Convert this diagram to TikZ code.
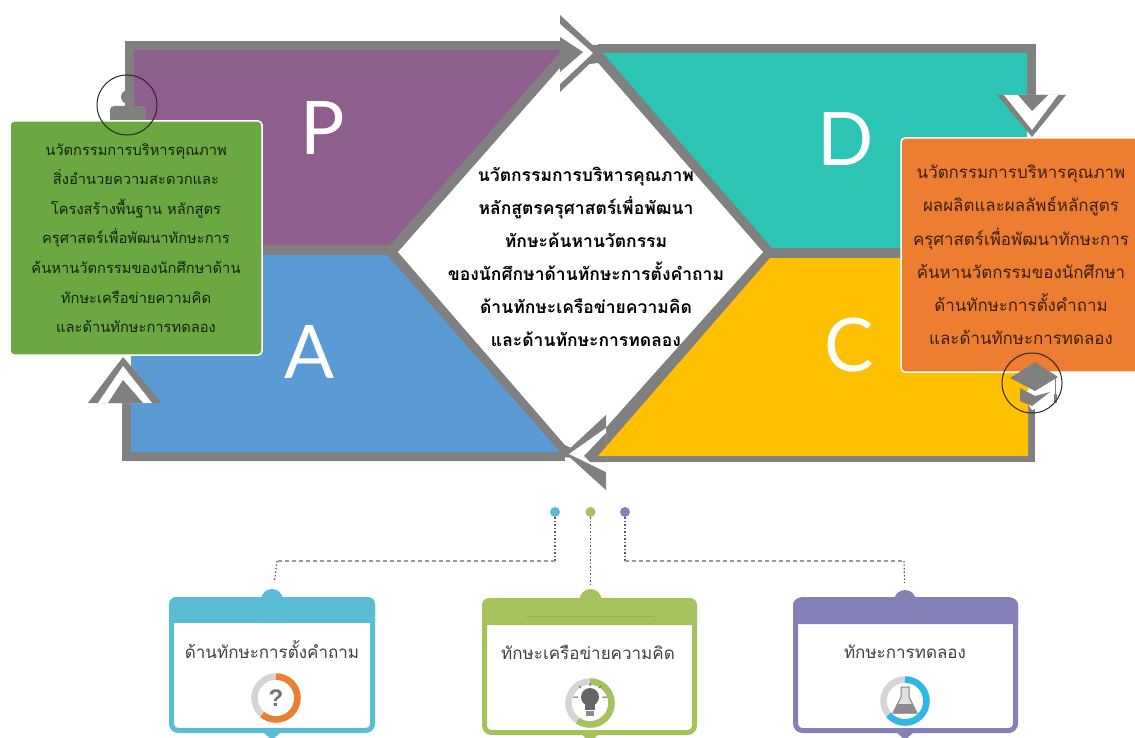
\documentclass[tikz,border=0pt]{standalone}
\usepackage{fontspec}
\setmainfont[Script=Thai]{Loma}
\newfontfamily\letterfont{Lato}
\newfontfamily\markfont{Liberation Sans}
\definecolor{framegray}{HTML}{808080}
\definecolor{planpurple}{HTML}{8E5E8C}
\definecolor{doteal}{HTML}{2CC5B5}
\definecolor{actblue}{HTML}{5B9BD5}
\definecolor{checkyellow}{HTML}{FFC000}
\definecolor{inputgreen}{HTML}{6BA842}
\definecolor{outputorange}{HTML}{ED7D31}
\definecolor{cardblue}{HTML}{5BBCD6}
\definecolor{cardgreen}{HTML}{A5C25C}
\definecolor{cardpurple}{HTML}{8580B8}
\definecolor{ringgray}{HTML}{D5D5D5}
\definecolor{flaskblue}{HTML}{2FB8E6}
\begin{document}
\begin{tikzpicture}[x=1pt,y=-1pt,
  frame/.style={draw=framegray,line width=9pt},
  infobox/.style={draw=white,line width=1.5pt,rounded corners=4pt,inner sep=0pt,align=center,font=\fontsize{14.7}{29.6}\selectfont},
  letter/.style={text=white,font=\letterfont\fontsize{74}{74}\selectfont,inner sep=0pt},
  midtext/.style={align=center,inner sep=0pt,font=\bfseries\fontsize{17.5}{32.9}\selectfont},
  cardbox/.style={draw=#1,fill=white,line width=5pt,rounded corners=7pt,minimum height=131pt,inner sep=0pt},
  cardtitle/.style={text=black!75,inner sep=0pt,font=\fontsize{17}{20}\selectfont},
  knob/.style={circle,fill=#1,minimum size=22pt,inner sep=0pt},
  dotnode/.style={circle,fill=#1,minimum size=10pt,inner sep=0pt},
  vdots/.style={draw=black!65,line width=1.2pt,dash pattern=on 1.5pt off 2pt},
  hdash/.style={draw=black!40,line width=1.2pt,dash pattern=on 4pt off 3pt},
  ring/.style={line width=6.5pt},
  iconring/.style={draw=black!85,line width=1pt}]
\useasboundingbox (0,0) rectangle (1135,738);

\fill[framegray] (600,45) -- (785,253) -- (596,460) -- (550,456) -- (375,250) -- (550,45) -- cycle;
\fill[framegray] (134,245) rectangle (400,255);
\fill[framegray] (760,248) rectangle (1030,258);
\draw[frame] (129.5,125) -- (129.5,45.5) -- (565,45.5);
\draw[frame] (126.5,403) -- (126.5,456.5) -- (565,456.5);
\draw[frame] (598,48.5) -- (1031.5,48.5) -- (1031.5,100);
\draw[draw=framegray,line width=7pt] (1031.5,400) -- (1031.5,458.5) -- (590,458.5);

\fill[planpurple] (134,50) -- (562,50) -- (390,245) -- (134,245) -- cycle;
\fill[doteal] (603,53) -- (1027,53) -- (1027,248) -- (772,248) -- cycle;
\fill[actblue] (131,255) -- (387,255) -- (560,452) -- (131,452) -- cycle;
\fill[white] (398,252) -- (560,68) -- (598,63) -- (763,252) -- (583,453) -- (565,445) -- cycle;

\fill[framegray] (560,15) -- (601,53) -- (560,92) -- cycle;
\fill[white] (560,24) -- (593,53) -- (560,84) -- cycle;
\fill[framegray] (560,37) -- (583,52) -- (560,72) -- cycle;
\fill[framegray] (997,95) -- (1032,137) -- (1066,95) -- cycle;
\fill[white] (1004,95) -- (1032,130) -- (1058,95) -- cycle;
\fill[framegray] (1018,95) -- (1032,111) -- (1048,95) -- cycle;
\fill[framegray] (606,415) -- (565,453) -- (606,490) -- cycle;
\fill[white] (606,428) -- (569,454) -- (606,472) -- cycle;
\fill[framegray] (584,456) -- (606,433) -- (606,462) -- (590,462) -- cycle;
\fill[framegray] (88,403) -- (123,357) -- (162,403) -- cycle;
\fill[white] (98,403) -- (123,366) -- (152,403) -- cycle;
\fill[framegray] (108,403) -- (123,380) -- (143,403) -- cycle;
\fill[checkyellow] (770,258) -- (1028,258) -- (1028,456) -- (598,456) -- cycle;

\node[letter] (planP) at (323,128) {P};
\node[letter] (doD) at (846,139) {D};
\node[letter] (actA) at (310,352) {A};
\node[letter] (checkC) at (849,345) {C};

\fill[framegray] (128,97) circle (7);
\fill[framegray,rounded corners=4pt] (110,125) -- (110,106) -- (146,106) -- (146,125) -- cycle;

\node[infobox,fill=inputgreen,text=black!80!inputgreen,minimum width=252pt,minimum height=234pt] (inputbox) at (136,238) {นวัตกรรมการบริหารคุณภาพ\\สิ่งอำนวยความสะดวกและ\\โครงสร้างพื้นฐาน หลักสูตร\\ครุศาสตร์เพื่อพัฒนาทักษะการ\\ค้นหานวัตกรรมของนักศึกษาด้าน\\ทักษะเครือข่ายความคิด\\และด้านทักษะการทดลอง};
\node[infobox,fill=outputorange,text=black!75!outputorange,minimum width=240pt,minimum height=234pt,font=\fontsize{16.9}{33.2}\selectfont] (outputbox) at (1021,255) {นวัตกรรมการบริหารคุณภาพ\\ผลผลิตและผลลัพธ์หลักสูตร\\ครุศาสตร์เพื่อพัฒนาทักษะการ\\ค้นหานวัตกรรมของนักศึกษา\\ด้านทักษะการตั้งคำถาม\\และด้านทักษะการทดลอง};
\node[midtext] (midtext) at (586,257) {นวัตกรรมการบริหารคุณภาพ\\หลักสูตรครุศาสตร์เพื่อพัฒนา\\ทักษะค้นหานวัตกรรม\\ของนักศึกษาด้านทักษะการตั้งคำถาม\\ด้านทักษะเครือข่ายความคิด\\และด้านทักษะการทดลอง};

\draw[iconring] (127,105) circle (30);

\fill[white] (1020,392) -- (1052,388) -- (1054,402) -- (1032,410) -- cycle;
\fill[framegray] (1020,388) -- (1020,401) -- (1032,406) -- (1050,392) -- (1035,396) -- cycle;
\fill[framegray] (1035,362) -- (1058,377) -- (1035,391) -- (1010,378) -- cycle;
\draw[framegray,line width=1pt] (1055,378) -- (1055,396);
\fill[framegray] (1053.5,394) rectangle (1056.5,403);
\draw[iconring] (1032,383) circle (30);

\node[cardbox=cardblue,minimum width=201pt] (cardask) at (272,665) {};
\node[cardbox=cardgreen,minimum width=210pt] (cardnet) at (589.5,667) {};
\node[cardbox=cardpurple,minimum width=220pt] (cardlab) at (905.5,665) {};
\fill[cardblue] (169,623) [rounded corners=7pt] -- (169,597) -- (375,597) [sharp corners] -- (375,623) -- cycle;
\fill[cardgreen] (482,625) [rounded corners=7pt] -- (482,598) -- (697,598) [sharp corners] -- (697,625) -- cycle;
\fill[cardpurple] (793,624) [rounded corners=7pt] -- (793,598) -- (1018,598) [sharp corners] -- (1018,624) -- cycle;
\draw[cardgreen!92!black,line width=.6pt] (525,616) -- (655,616);
\node[knob=cardblue] (knobask) at (272,600) {};
\node[knob=cardgreen] (knobnet) at (590.5,600) {};
\node[knob=cardpurple] (knoblab) at (905,601) {};
\fill[cardblue] (262,731) -- (272,740) -- (282,731) -- cycle;
\fill[cardgreen] (580,733) -- (590,742) -- (600,733) -- cycle;
\fill[cardpurple] (895,731) -- (905,740) -- (915,731) -- cycle;

\node[cardtitle] (titleask) at (272,650) {ด้านทักษะการตั้งคำถาม};
\node[cardtitle] (titlenet) at (588,652) {ทักษะเครือข่ายความคิด};
\node[cardtitle] (titlelab) at (905,652) {ทักษะการทดลอง};

\node[dotnode=cardblue] (dotask) at (555,512) {};
\node[dotnode=cardgreen] (dotnet) at (590.5,512) {};
\node[dotnode=cardpurple] (dotlab) at (625,512) {};
\coordinate (askelbowa) at (555,561);
\coordinate (askelbowb) at (277,561);
\coordinate (labelbowa) at (625,561);
\coordinate (labelbowb) at (904,561);
\draw[vdots] (dotask) -- (askelbowa);
\draw[hdash] (askelbowa) -- (askelbowb);
\draw[vdots,shorten >=7pt] (askelbowb) -- (knobask);
\draw[vdots,shorten >=2pt] (dotnet) -- (knobnet);
\draw[vdots] (dotlab) -- (labelbowa);
\draw[hdash] (labelbowa) -- (labelbowb);
\draw[vdots,shorten >=7pt] (labelbowb) -- (knoblab);

\draw[ring,ringgray] (276,698) circle (21.5);
\draw[ring,outputorange] (276,676.5) arc[start angle=-90,end angle=130,radius=21.5];
\node[text=black!55,font=\markfont\bfseries\fontsize{24}{24}\selectfont,inner sep=0pt] (markask) at (276,698) {?};

\draw[ring,ringgray] (590,703) circle (21.5);
\draw[ring,cardgreen] (590,681.5) arc[start angle=-90,end angle=125,radius=21.5];
\fill[black!60] (590,697) circle (9);
\fill[black!60] (585,700) rectangle (595,710);
\fill[black!45] (586,711) rectangle (594,716);
\draw[black!60,line width=1pt] (573,697) -- (578,697) (602,697) -- (607,697) (590,683) -- (590,686) (579,686) -- (581,688) (601,686) -- (599,688);

\draw[ring,ringgray] (905,701) circle (21.5);
\draw[ring,flaskblue] (905,679.5) arc[start angle=-90,end angle=140,radius=21.5];
\draw[black!50,line width=1pt,fill=black!12] (901,687) -- (909,687) -- (909,697) -- (917,713) -- (893,713) -- (901,697) -- cycle;
\fill[black!45] (897,704) -- (913,704) -- (917,713) -- (893,713) -- cycle;
\end{tikzpicture}
\end{document}
